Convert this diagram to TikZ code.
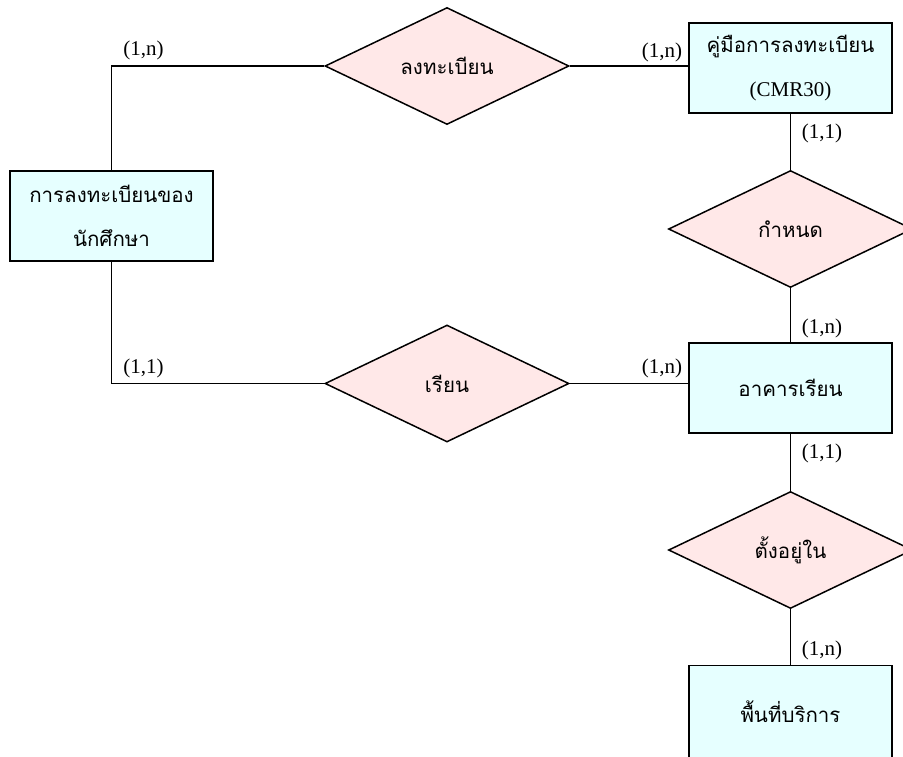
\documentclass[tikz,border=0pt]{standalone}
\usepackage{fontspec}
\setmainfont{Liberation Serif}
\newfontfamily\thai[Script=Thai]{Loma}
\usetikzlibrary{shapes.geometric}
\definecolor{entfill}{RGB}{230,255,255}
\definecolor{relfill}{RGB}{255,232,232}
\newcommand\thaitext{\thai\fontsize{20.5}{44}\selectfont}
\begin{document}
\begin{tikzpicture}[x=1pt,y=-1pt,
  entity/.style={draw, line width=1.5pt, fill=entfill, minimum width=203pt,
    minimum height=90pt, inner sep=0pt, align=center, font=\thaitext},
  relation/.style={diamond, draw, line width=1.5pt, fill=relfill,
    minimum width=244pt, minimum height=117pt, inner sep=0pt, font=\thaitext},
  card/.style={font=\fontsize{21}{24}\selectfont, inner sep=0pt},
  link/.style={line width=1.5pt}]
\useasboundingbox (0,0) rectangle (903,756);
\clip (0,0) rectangle (903,756);

% entities
\node[entity] (reg) at (111.5,216) {การลงทะเบียนของ\\นักศึกษา};
\node[entity] (man) at (790.5,68) {คู่มือการลงทะเบียน\\{\rmfamily\fontsize{21}{44}\selectfont (CMR30)}};
\node[entity] (bld) at (790.5,388) {อาคารเรียน};
\node[entity, minimum height=92pt] (area) at (790.5,711.5) {พื้นที่บริการ};

% relationships
\node[relation] (enrol) at (447,66) {ลงทะเบียน};
\node[relation] (study) at (447,383.5) {เรียน};
\node[relation] (assign) at (790.5,229) {กำหนด};
\node[relation] (locate) at (790.5,550) {ตั้งอยู่ใน};

% connectors
\draw[link] (reg.north) |- (enrol.west);
\draw[link] (enrol.east) -- (enrol.east -| man.west);
\draw[link] (reg.south) |- (study.west);
\draw[link] (study.east) -- (study.east -| bld.west);
\draw[link] (man.south) -- (assign.north);
\draw[link] (assign.south) -- (bld.north);
\draw[link] (bld.south) -- (locate.north);
\draw[link] (locate.south) -- (area.north);

% cardinalities
\node[card] (c1) at (143.5,50) {(1,n)};
\node[card] (c2) at (662,52) {(1,n)};
\node[card] (c3) at (822,133) {(1,1)};
\node[card] (c4) at (822,328) {(1,n)};
\node[card] (c5) at (662,368) {(1,n)};
\node[card] (c6) at (143.5,368) {(1,1)};
\node[card] (c7) at (822,453) {(1,1)};
\node[card] (c8) at (822,650) {(1,n)};
\end{tikzpicture}
\end{document}
